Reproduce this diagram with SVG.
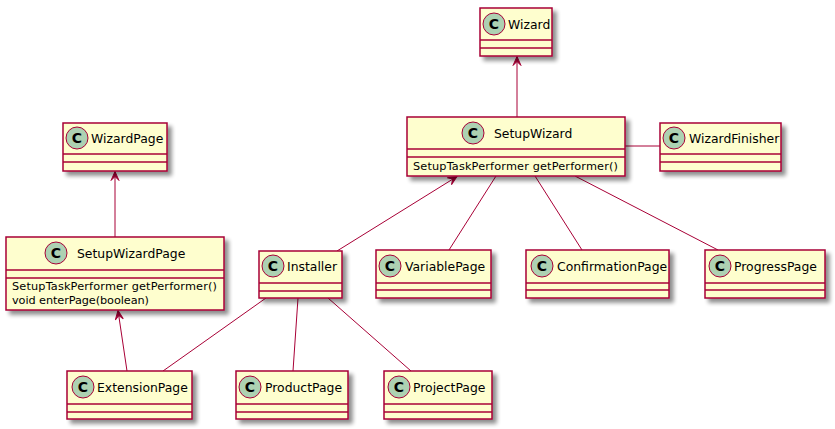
<svg xmlns="http://www.w3.org/2000/svg" width="835" height="429" viewBox="0 0 835 429">
<defs>
<filter id="sh" x="-10%" y="-10%" width="130%" height="140%">
<feGaussianBlur in="SourceAlpha" stdDeviation="2"/>
<feOffset dx="4" dy="4" result="b"/>
<feComponentTransfer><feFuncA type="linear" slope="0.45"/></feComponentTransfer>
<feMerge><feMergeNode/><feMergeNode in="SourceGraphic"/></feMerge>
</filter>
<marker id="open" viewBox="0 0 12 12" refX="11" refY="6" markerWidth="12" markerHeight="12" markerUnits="userSpaceOnUse" orient="auto">
<path d="M11,6 L2,2 L6,6 L2,10 Z" fill="#A80036" stroke="#A80036" stroke-width="1"/>
</marker>
</defs>
<style>
.box{fill:#FEFECE;stroke:#A80036;stroke-width:1.5;filter:url(#sh)}
.sep{stroke:#A80036;stroke-width:1.5}
.ci{fill:#ADD1B2;stroke:#A80036;stroke-width:1}
.cl{font-family:"DejaVu Sans",sans-serif;font-size:14px;font-weight:bold;fill:#000;text-anchor:middle}
.nm{font-family:"DejaVu Sans",sans-serif;font-size:12.4px;fill:#000}
.mb{font-family:"DejaVu Sans",sans-serif;font-size:11.3px;fill:#000}
.ln{stroke:#A80036;stroke-width:1;fill:none}
</style>
<g id="connectors">
<line class="ln" x1="517" y1="117" x2="517" y2="56.5" marker-end="url(#open)"/>
<line class="ln" x1="115" y1="237" x2="115" y2="171.5" marker-end="url(#open)"/>
<line class="ln" x1="337" y1="251" x2="457" y2="176.5" marker-end="url(#open)"/>
<line class="ln" x1="127" y1="371" x2="118" y2="310.5" marker-end="url(#open)"/>
<line class="ln" x1="625" y1="146" x2="660" y2="146"/>
<line class="ln" x1="496" y1="176" x2="449" y2="250"/>
<line class="ln" x1="535" y1="176" x2="582" y2="250"/>
<line class="ln" x1="575" y1="176" x2="718" y2="250"/>
<line class="ln" x1="266" y1="298" x2="163" y2="371"/>
<line class="ln" x1="298" y1="298" x2="293" y2="371"/>
<line class="ln" x1="328" y1="298" x2="411" y2="371"/>
</g>
<g id="Wizard">
<rect class="box" x="480" y="8" width="72" height="48"/>
<line class="sep" x1="480" y1="40" x2="552" y2="40"/><line class="sep" x1="480" y1="48" x2="552" y2="48"/>
<circle class="ci" cx="494" cy="24" r="11"/><text class="cl" x="494" y="29">C</text>
<text class="nm" x="508" y="29">Wizard</text>
</g>
<g id="SetupWizard">
<rect class="box" x="407" y="117" width="218" height="59"/>
<line class="sep" x1="407" y1="149" x2="625" y2="149"/><line class="sep" x1="407" y1="157" x2="625" y2="157"/>
<circle class="ci" cx="473" cy="133" r="11"/><text class="cl" x="473" y="138">C</text>
<text class="nm" x="494" y="138">SetupWizard</text>
<text class="mb" x="413" y="170" textLength="205" lengthAdjust="spacing">SetupTaskPerformer getPerformer()</text>
</g>
<g id="WizardFinisher">
<rect class="box" x="660" y="123" width="121" height="48"/>
<line class="sep" x1="660" y1="154" x2="781" y2="154"/><line class="sep" x1="660" y1="162" x2="781" y2="162"/>
<circle class="ci" cx="674" cy="138" r="11"/><text class="cl" x="674" y="143">C</text>
<text class="nm" x="689" y="143">WizardFinisher</text>
</g>
<g id="WizardPage">
<rect class="box" x="63" y="123" width="104" height="48"/>
<line class="sep" x1="63" y1="154" x2="167" y2="154"/><line class="sep" x1="63" y1="162" x2="167" y2="162"/>
<circle class="ci" cx="77" cy="138" r="11"/><text class="cl" x="77" y="143">C</text>
<text class="nm" x="91" y="143">WizardPage</text>
</g>
<g id="SetupWizardPage">
<rect class="box" x="6" y="237" width="218" height="73"/>
<line class="sep" x1="6" y1="270" x2="224" y2="270"/><line class="sep" x1="6" y1="278" x2="224" y2="278"/>
<circle class="ci" cx="56" cy="253" r="11"/><text class="cl" x="56" y="258">C</text>
<text class="nm" x="77" y="258">SetupWizardPage</text>
<text class="mb" x="12" y="290" textLength="205" lengthAdjust="spacing">SetupTaskPerformer getPerformer()</text>
<text class="mb" x="12" y="304" textLength="137" lengthAdjust="spacing">void enterPage(boolean)</text>
</g>
<g id="Installer">
<rect class="box" x="259" y="251" width="83" height="47"/>
<line class="sep" x1="259" y1="283" x2="342" y2="283"/><line class="sep" x1="259" y1="291" x2="342" y2="291"/>
<circle class="ci" cx="273" cy="266" r="11"/><text class="cl" x="273" y="271">C</text>
<text class="nm" x="287" y="271">Installer</text>
</g>
<g id="VariablePage">
<rect class="box" x="376" y="250" width="115" height="48"/>
<line class="sep" x1="376" y1="283" x2="491" y2="283"/><line class="sep" x1="376" y1="290" x2="491" y2="290"/>
<circle class="ci" cx="390" cy="266" r="11"/><text class="cl" x="390" y="271">C</text>
<text class="nm" x="405" y="271">VariablePage</text>
</g>
<g id="ConfirmationPage">
<rect class="box" x="526" y="250" width="143" height="48"/>
<line class="sep" x1="526" y1="283" x2="669" y2="283"/><line class="sep" x1="526" y1="290" x2="669" y2="290"/>
<circle class="ci" cx="542" cy="266" r="11"/><text class="cl" x="542" y="271">C</text>
<text class="nm" x="557" y="271">ConfirmationPage</text>
</g>
<g id="ProgressPage">
<rect class="box" x="705" y="250" width="120" height="48"/>
<line class="sep" x1="705" y1="283" x2="825" y2="283"/><line class="sep" x1="705" y1="290" x2="825" y2="290"/>
<circle class="ci" cx="720" cy="266" r="11"/><text class="cl" x="720" y="271">C</text>
<text class="nm" x="734" y="271">ProgressPage</text>
</g>
<g id="ExtensionPage">
<rect class="box" x="67" y="371" width="125" height="48"/>
<line class="sep" x1="67" y1="404" x2="192" y2="404"/><line class="sep" x1="67" y1="412" x2="192" y2="412"/>
<circle class="ci" cx="83" cy="387" r="11"/><text class="cl" x="83" y="392">C</text>
<text class="nm" x="97" y="392">ExtensionPage</text>
</g>
<g id="ProductPage">
<rect class="box" x="236" y="371" width="112" height="48"/>
<line class="sep" x1="236" y1="404" x2="348" y2="404"/><line class="sep" x1="236" y1="412" x2="348" y2="412"/>
<circle class="ci" cx="250" cy="387" r="11"/><text class="cl" x="250" y="392">C</text>
<text class="nm" x="265" y="392">ProductPage</text>
</g>
<g id="ProjectPage">
<rect class="box" x="384" y="371" width="108" height="48"/>
<line class="sep" x1="384" y1="404" x2="492" y2="404"/><line class="sep" x1="384" y1="412" x2="492" y2="412"/>
<circle class="ci" cx="399" cy="387" r="11"/><text class="cl" x="399" y="392">C</text>
<text class="nm" x="413" y="392">ProjectPage</text>
</g>
</svg>
